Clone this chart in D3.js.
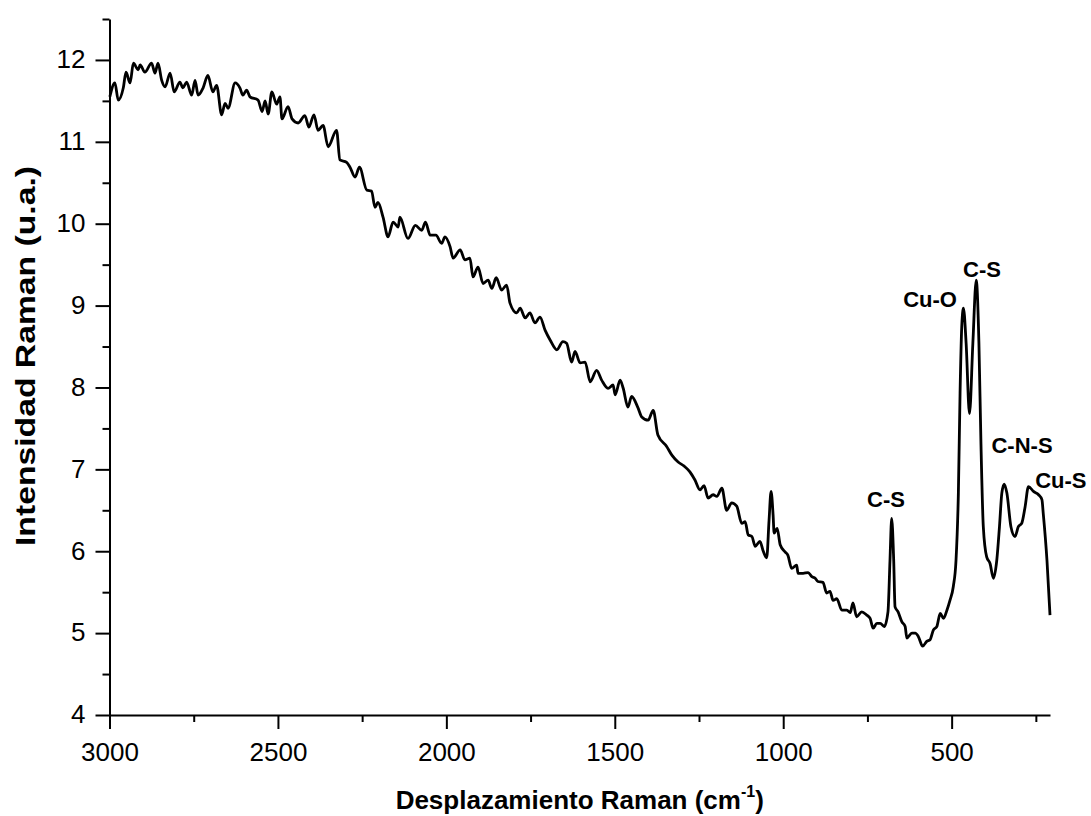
<!DOCTYPE html>
<html>
<head>
<meta charset="utf-8">
<script src="https://cdn.jsdelivr.net/npm/d3@7"></script>
<style>
  html, body { margin: 0; padding: 0; background: #fff; }
  svg { display: block; }
  text { font-family: "Liberation Sans", Arial, sans-serif; fill: #000; }
</style>
</head>
<body>
<svg id="chart" width="1091" height="816"></svg>
<script>
// ---- data ----
const shift = [2999, 2984, 2974, 2959, 2951, 2939, 2929, 2915, 2909, 2895, 2875, 2865, 2856, 2845, 2835, 2820, 2808, 2791, 2782, 2771, 2756, 2746, 2737, 2722, 2708, 2693, 2682, 2667, 2657, 2648, 2627, 2613, 2604, 2593,
  2583, 2559, 2547, 2538, 2529, 2518, 2504, 2494, 2488, 2470, 2458, 2440, 2420, 2408, 2393, 2381, 2366, 2351, 2326, 2316, 2296, 2286, 2271, 2258, 2236, 2222, 2212, 2203, 2188, 2173, 2158, 2143, 2138, 2114, 2092, 2073, 2062, 2048, 2031, 2014, 2004, 1989, 1980, 1959, 1945, 1930, 1921, 1906, 1891, 1876, 1865, 1852, 1836, 1821, 1811, 1791, 1781, 1766, 1752, 1737, 1722, 1707, 1692, 1672, 1654, 1643, 1628, 1618, 1603, 1588, 1573, 1554, 1539, 1520, 1505, 1499, 1484, 1475, 1461, 1450, 1431, 1420, 1401, 1386, 1372, 1346, 1330, 1312, 1294, 1277, 1262, 1247, 1235, 1223, 1208, 1197, 1182, 1168, 1153, 1138, 1123, 1113, 1104, 1093, 1083, 1069, 1060, 1049, 1042, 1036, 1030, 1027, 1018, 1009, 994, 986, 975, 960, 956, 941, 926, 915, 905, 897, 882, 871, 861, 852, 841, 826, 811, 801, 793, 782, 767, 752, 742, 733, 722, 712, 700, 689, 683, 678, 672, 668, 659, 648, 638, 633, 618, 608, 599, 586, 574, 564, 554, 544, 534, 524, 514, 505, 495, 487, 480, 475, 470, 465, 457, 447, 437, 427, 419, 413, 406, 396, 386, 376, 366, 358, 351, 344, 336, 324, 312, 302, 292, 282, 272, 257, 242, 232, 228, 217, 208];

const intensity = [11.55, 11.72, 11.51, 11.66, 11.85, 11.72, 11.96, 11.88, 11.94, 11.85, 11.96, 11.84, 11.96, 11.75, 11.67, 11.84, 11.61, 11.73, 11.66, 11.73, 11.57, 11.75, 11.57, 11.66, 11.81, 11.61, 11.69, 11.33, 11.47, 11.41, 11.72, 11.66, 11.57, 11.63,
  11.55, 11.51, 11.37, 11.50, 11.34, 11.61, 11.46, 11.55, 11.28, 11.43, 11.28, 11.23, 11.32, 11.18, 11.33, 11.14, 11.20, 10.94, 11.14, 10.78, 10.75, 10.69, 10.57, 10.69, 10.41, 10.40, 10.20, 10.26, 10.08, 9.84, 10.02, 9.96, 10.08, 9.82, 9.98, 9.92, 10.02, 9.86, 9.86, 9.76, 9.84, 9.72, 9.58, 9.68, 9.56, 9.58, 9.35, 9.47, 9.27, 9.31, 9.21, 9.34, 9.19, 9.25, 9.03, 8.91, 8.97, 8.85, 8.91, 8.79, 8.86, 8.70, 8.58, 8.46, 8.56, 8.54, 8.31, 8.44, 8.30, 8.31, 8.07, 8.21, 8.09, 7.99, 8.03, 7.91, 8.09, 7.99, 7.76, 7.89, 7.75, 7.64, 7.60, 7.72, 7.42, 7.28, 7.17, 7.09, 7.04, 6.97, 6.87, 6.75, 6.80, 6.65, 6.69, 6.67, 6.77, 6.50, 6.59, 6.55, 6.34, 6.36, 6.20, 6.18, 6.06, 6.12, 6.01, 5.92, 6.38, 6.73, 6.44, 6.22, 6.28, 6.08, 5.99, 5.95, 5.79, 5.83, 5.73, 5.73, 5.74, 5.69, 5.67, 5.63, 5.62, 5.49, 5.51, 5.40, 5.42, 5.28, 5.28, 5.25, 5.37, 5.20, 5.26, 5.22, 5.18, 5.06, 5.12, 5.12, 5.08, 5.26, 5.89, 6.40, 5.89, 5.32, 5.26, 5.14, 5.08, 4.94, 5.00, 5.00, 4.96, 4.84, 4.90, 4.92, 5.04, 5.08, 5.24, 5.18, 5.28, 5.40, 5.57, 5.89, 6.71, 7.93, 8.74, 8.97, 8.54, 7.68, 8.54, 9.31, 8.54, 7.32, 6.30, 5.93, 5.85, 5.67, 5.89, 6.30, 6.71, 6.82, 6.71, 6.30, 6.18, 6.30, 6.34, 6.54, 6.79, 6.73, 6.69, 6.63, 6.46, 5.89, 5.22];

const xMajorTicks = [3000, 2500, 2000, 1500, 1000, 500];
const xMinorTicks = [2750, 2250, 1750, 1250, 750, 250];
const yMajorTicks = [4, 5, 6, 7, 8, 9, 10, 11, 12];
const yMinorTicks = [4.5, 5.5, 6.5, 7.5, 8.5, 9.5, 10.5, 11.5, 12.5];

const peakLabels = ["C-S", "Cu-O", "C-S", "C-N-S", "Cu-S"];
const peakShift = [695, 564, 410, 291, 252];
const peakY = [6.54, 8.98, 9.35, 7.20, 6.77];
const peakAnchor = ["middle", "middle", "middle", "middle", "start"];

const xTitle = "Desplazamiento Raman (cm";
const xTitleSup = "-1";
const yTitle = "Intensidad Raman (u.a.)";

// ---- layout ----
const svg = d3.select("#chart");
const plotLeft = 109.5, plotRight = 1050, plotTop = 19, plotBottom = 715;

const x = d3.scaleLinear().domain([3000, 208]).range([plotLeft, plotRight]);
const y = d3.scaleLinear().domain([4, 12.5]).range([plotBottom, plotTop]);

// x axis
const gx = svg.append("g").attr("transform", `translate(0,${plotBottom})`);
gx.call(d3.axisBottom(x).tickValues(xMajorTicks).tickSize(14).tickSizeOuter(0).tickPadding(14).tickFormat(d3.format("d")));
gx.append("g").call(d3.axisBottom(x).tickValues(xMinorTicks).tickSize(7).tickSizeOuter(0).tickFormat(""));
gx.selectAll("text").attr("font-size", 26).attr("font-family", '"Liberation Sans", Arial, sans-serif').attr("fill", "#000");

// y axis
const gy = svg.append("g").attr("transform", `translate(${plotLeft},0)`);
gy.call(d3.axisLeft(y).tickValues(yMajorTicks).tickSize(14).tickSizeOuter(0).tickPadding(10).tickFormat(d3.format("d")));
gy.append("g").call(d3.axisLeft(y).tickValues(yMinorTicks).tickSize(7).tickSizeOuter(0).tickFormat(""));
gy.selectAll("text").attr("font-size", 26).attr("font-family", '"Liberation Sans", Arial, sans-serif').attr("fill", "#000").attr("dy", "0.3em");

svg.selectAll(".domain, .tick line").attr("stroke", "#000").attr("stroke-width", 2);
svg.selectAll("g g .domain").remove();

// spectrum line
const pts = d3.zip(shift, intensity);
const line = d3.line().x(d => x(d[0])).y(d => y(d[1])).curve(d3.curveMonotoneX);
svg.append("path")
  .datum(pts)
  .attr("d", line)
  .attr("fill", "none")
  .attr("stroke", "#000")
  .attr("stroke-width", 2.8)
  .attr("stroke-linejoin", "round");

// peak annotations
svg.append("g").selectAll("text")
  .data(d3.range(peakLabels.length))
  .join("text")
  .attr("x", i => x(peakShift[i]))
  .attr("y", i => y(peakY[i]))
  .attr("text-anchor", i => peakAnchor[i])
  .attr("font-size", 22)
  .attr("font-weight", "bold")
  .text(i => peakLabels[i]);

// axis titles
const xt = svg.append("text")
  .attr("x", (plotLeft + plotRight) / 2)
  .attr("y", 809)
  .attr("text-anchor", "middle")
  .attr("font-size", 26)
  .attr("font-weight", "bold");
xt.append("tspan").text(xTitle);
xt.append("tspan").attr("font-size", 16).attr("dy", -12).text(xTitleSup);
xt.append("tspan").attr("dy", 12).text(")");

svg.append("text")
  .attr("transform", `translate(35,356) rotate(-90)`)
  .attr("text-anchor", "middle")
  .attr("font-size", 28)
  .attr("font-weight", "bold")
  .attr("textLength", 380)
  .attr("lengthAdjust", "spacingAndGlyphs")
  .text(yTitle);
</script>
</body>
</html>
